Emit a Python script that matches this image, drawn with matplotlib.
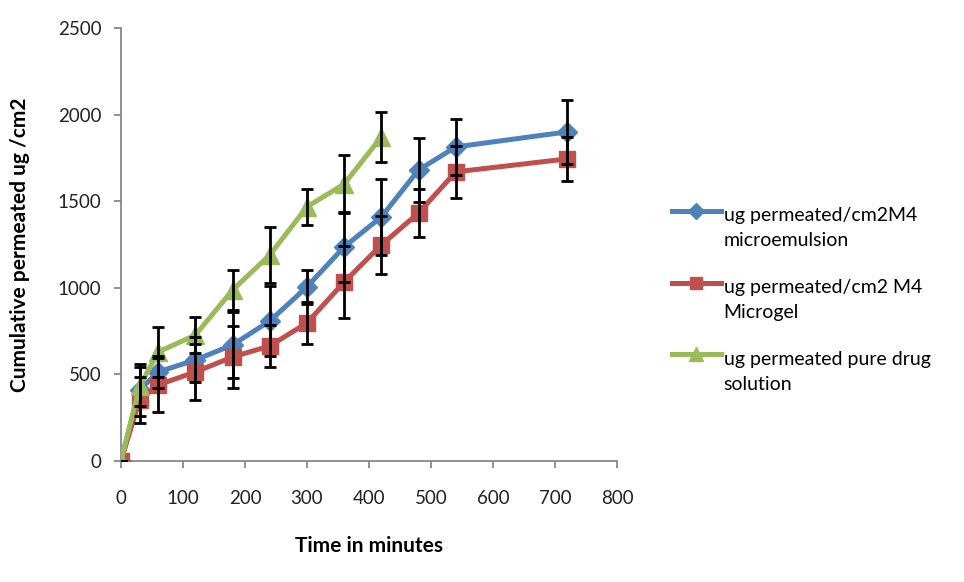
import matplotlib
matplotlib.use("Agg")
import matplotlib.pyplot as plt
import matplotlib.transforms as mtransforms
from matplotlib.legend_handler import HandlerLine2D

plt.rcParams['font.family'] = ['Lato', 'DejaVu Sans']

time_me = [0, 30, 60, 120, 180, 240, 300, 360, 420, 480, 540, 720]
micro = [0, 410, 514, 583, 670, 808, 1005, 1236, 1409, 1680, 1813, 1900]
micro_err = [0, 150, 90, 130, 190, 200, 100, 200, 220, 185, 162, 185]

time_mg = [0, 30, 60, 120, 180, 240, 300, 360, 420, 480, 540, 720]
microgel = [0, 352, 439, 514, 600, 664, 797, 1033, 1247, 1432, 1669, 1744]
microgel_err = [0, 133, 155, 162, 180, 120, 120, 207, 165, 140, 150, 127]

time_pd = [0, 30, 60, 120, 180, 240, 300, 360, 420]
pure = [0, 430, 629, 727, 987, 1189, 1467, 1599, 1871]
pure_err = [0, 110, 145, 104, 115, 160, 105, 168, 145]

labels = ["ug permeated/cm2M4\nmicroemulsion",
          "ug permeated/cm2 M4\nMicrogel",
          "ug permeated pure drug\nsolution"]
colors = ["#4F81BD", "#C0504D", "#9BBB59"]
markers = ["D", "s", "^"]
msizes = [10, 11.5, 12.5]


class UpHandler(HandlerLine2D):
    def create_artists(self, legend, orig_handle, xdescent, ydescent, width, height, fontsize, trans):
        t2 = mtransforms.Affine2D().translate(0, fontsize * 0.9) + trans
        return super().create_artists(legend, orig_handle, xdescent, ydescent, width, height, fontsize, t2)


fig = plt.figure(figsize=(9.64, 5.82), dpi=100)
ax = fig.add_axes([0.1255, 0.208, 0.5145, 0.744])

series = [(time_me, micro, micro_err), (time_mg, microgel, microgel_err), (time_pd, pure, pure_err)]
handles = []
for (t, v, e), lab, c, m, ms in zip(series, labels, colors, markers, msizes):
    h, = ax.plot(t, v, color=c, lw=3.6, marker=m, markersize=ms, label=lab, zorder=3)
    ax.errorbar(t, v, yerr=e, fmt='none', ecolor='black', elinewidth=2.0,
                capsize=4.5, capthick=2.0, zorder=4)
    handles.append(h)

ax.set_xlim(0, 800)
ax.set_ylim(0, 2500)
ax.set_xticks(range(0, 801, 100))
ax.set_yticks(range(0, 2501, 500))
ax.spines['top'].set_visible(False)
ax.spines['right'].set_visible(False)
for s in ['left', 'bottom']:
    ax.spines[s].set_color('#888888')
    ax.spines[s].set_linewidth(1.3)
ax.tick_params(axis='both', colors='#888888', labelcolor='#222222', labelsize=13.5, length=5, width=1.3)
ax.tick_params(axis='y', pad=9)
ax.tick_params(axis='x', pad=16)
ax.set_xlabel("Time in minutes", fontsize=15, fontweight='bold', labelpad=21)
ax.set_ylabel("Cumulative permeated ug /cm2", fontsize=15, fontweight='bold', labelpad=20)

leg = fig.legend(handles=handles, labels=labels, loc='upper left', bbox_to_anchor=(0.679, 0.675),
                 frameon=False, fontsize=14, handlelength=2.5, labelspacing=1.52, handletextpad=0.15,
                 markerscale=0.8, handler_map={matplotlib.lines.Line2D: UpHandler()})
for t in leg.get_texts():
    t.set_linespacing(1.6)

fig.savefig("out.png", dpi=100)
